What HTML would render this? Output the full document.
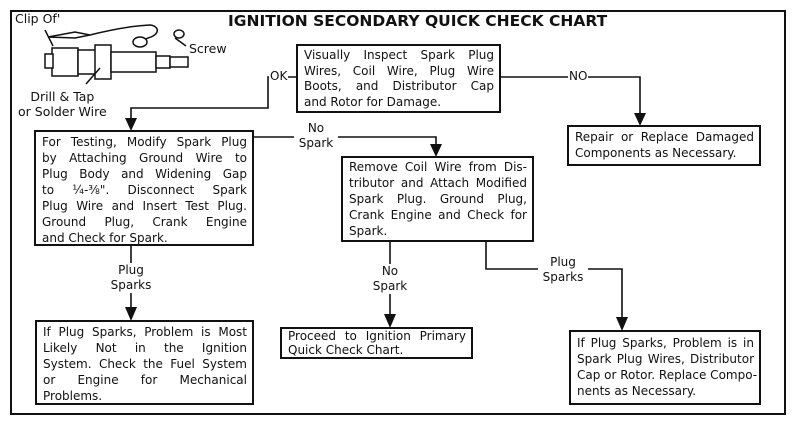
<!DOCTYPE html>
<html><head><style>
body{margin:0;width:796px;height:426px;background:#fff;position:relative;overflow:hidden;font-family:"DejaVu Sans","Liberation Sans",sans-serif;color:#111}
.b{position:absolute;border:2px solid #111;background:#fff;padding:3px 5px 2px 6px;box-sizing:border-box;font-size:12px;line-height:16px}
.b div{white-space:nowrap}
.j{text-align:justify;text-align-last:justify}
.t{position:absolute;font-size:12px;line-height:15px;text-align:center;background:#fff}
</style></head><body>
<svg width="796" height="426" style="position:absolute;left:0;top:0">
<rect x="11" y="11" width="774" height="403" fill="none" stroke="#111" stroke-width="2"/>
<g stroke="#111" stroke-width="1.6" fill="none">
<polyline points="296,77 268,77 268,108 131,108 131,122"/>
<polyline points="500,77 640,77 640,118"/>
<polyline points="253,137 436,137 436,149"/>
<polyline points="131,245 131,313"/>
<polyline points="390,241 390,320"/>
<polyline points="486,241 486,269 622,269 622,323"/>
</g>
<g fill="#111">
<polygon points="125,118 137,118 131,131"/>
<polygon points="634,113 646,113 640,126"/>
<polygon points="430,144 442,144 436,157"/>
<polygon points="125,307 137,307 131,321"/>
<polygon points="384,314 396,314 390,328"/>
<polygon points="616,317 628,317 622,331"/>
</g>
<g stroke="#111" stroke-width="1.5" fill="#fff">
<rect x="52" y="48" width="26" height="28"/>
<rect x="45" y="54" width="8" height="14"/>
<rect x="78" y="50" width="18" height="24"/>
<rect x="95" y="45" width="16" height="34"/>
<rect x="111" y="52" width="45" height="20"/>
<rect x="156" y="56" width="14" height="12"/>
<rect x="170" y="57" width="18" height="10"/>
<path d="M48 37 L75 32 L90 35 L75 38 Z"/>
<path d="M90 35 C110 30 130 26 150 25 C160 26 160 35 148 38 L140 42"/>
<ellipse cx="140" cy="42" rx="7" ry="5"/>
<ellipse cx="179" cy="34" rx="5" ry="4"/>
</g>
<g stroke="#111" stroke-width="1.5">
<line x1="45" y1="30" x2="53" y2="46"/>
<line x1="86" y1="84" x2="100" y2="68"/>
<line x1="175" y1="38" x2="186" y2="46"/>
</g>
</svg>
<div style="position:absolute;left:228px;top:12px;font-weight:bold;font-size:15.5px;letter-spacing:0px">IGNITION SECONDARY QUICK CHECK CHART</div>
<div style="position:absolute;left:15px;top:11px;font-size:12.5px">Clip Of'</div>
<div style="position:absolute;left:189px;top:41px;font-size:12.5px">Screw</div>
<div style="position:absolute;left:18px;top:89px;font-size:12.5px;line-height:15px;text-align:center">Drill &amp; Tap<br>or Solder Wire</div>

<div class="b" style="left:296px;top:44px;width:205px;height:69px;padding-top:2px;line-height:15.7px">
<div class="j">Visually Inspect Spark Plug</div><div class="j">Wires, Coil Wire, Plug Wire</div><div class="j">Boots, and Distributor Cap</div><div>and Rotor for Damage.</div></div>

<div class="b" style="left:567px;top:125px;width:194px;height:41px;padding-top:3px;line-height:15.5px">
<div class="j">Repair or Replace Damaged</div><div>Components as Necessary.</div></div>

<div class="b" style="left:34px;top:130px;width:220px;height:116px;padding-top:2px">
<div class="j">For Testing, Modify Spark Plug</div><div class="j">by Attaching Ground Wire to</div><div class="j">Plug Body and Widening Gap</div><div class="j">to ¼-⅜". Disconnect Spark</div><div class="j">Plug Wire and Insert Test Plug.</div><div class="j">Ground Plug, Crank Engine</div><div>and Check for Spark.</div></div>

<div class="b" style="left:341px;top:156px;width:193px;height:86px;padding-top:1px;line-height:16px">
<div class="j">Remove Coil Wire from Dis-</div><div class="j">tributor and Attach Modified</div><div class="j">Spark Plug. Ground Plug,</div><div class="j">Crank Engine and Check for</div><div>Spark.</div></div>

<div class="b" style="left:35px;top:320px;width:219px;height:85px;padding-top:2px;line-height:16px">
<div class="j">If Plug Sparks, Problem is Most</div><div class="j">Likely Not in the Ignition</div><div class="j">System. Check the Fuel System</div><div class="j">or Engine for Mechanical</div><div>Problems.</div></div>

<div class="b" style="left:280px;top:327px;width:193px;height:32px;padding-top:0px;line-height:14px">
<div class="j">Proceed to Ignition Primary</div><div>Quick Check Chart.</div></div>

<div class="b" style="left:569px;top:330px;width:192px;height:75px;padding-top:3px;line-height:16px">
<div class="j">If Plug Sparks, Problem is in</div><div class="j">Spark Plug Wires, Distributor</div><div class="j">Cap or Rotor. Replace Compo-</div><div>nents as Necessary.</div></div>

<div class="t" style="left:269px;top:69px;padding:0 1px">OK</div>
<div class="t" style="left:568px;top:69px;padding:0 1px">NO</div>
<div class="t" style="left:294px;top:121px;width:44px">No<br>Spark</div>
<div class="t" style="left:109px;top:263px;width:44px">Plug<br>Sparks</div>
<div class="t" style="left:368px;top:264px;width:44px">No<br>Spark</div>
<div class="t" style="left:538px;top:255px;width:50px">Plug<br>Sparks</div>
</body></html>
